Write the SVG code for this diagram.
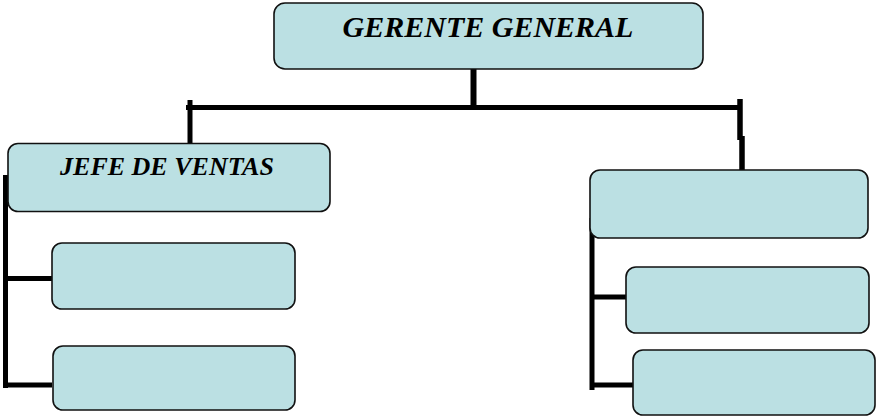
<svg xmlns="http://www.w3.org/2000/svg" width="877" height="416" viewBox="0 0 877 416">
<style>
.box{fill:#bbe0e3;stroke:#111;stroke-width:1.6}
.lbl{font-family:"Liberation Serif","Times New Roman",serif;font-weight:bold;font-style:italic;fill:#000}
.ln{fill:none;stroke:#000;stroke-linecap:butt}
</style>
<rect width="877" height="416" fill="#fff"/>
<g id="connectors">
<line class="ln" x1="473.5" y1="63" x2="473.5" y2="107" stroke-width="6"/>
<line class="ln" x1="186" y1="107.5" x2="742" y2="107.5" stroke-width="5"/>
<line class="ln" x1="190" y1="100" x2="190" y2="143" stroke-width="5"/>
<line class="ln" x1="740" y1="99" x2="740" y2="140" stroke-width="5.5"/>
<line class="ln" x1="742" y1="136" x2="742" y2="170" stroke-width="5.5"/>
<line class="ln" x1="5.5" y1="175" x2="5.5" y2="388" stroke-width="5"/>
<line class="ln" x1="5" y1="278.5" x2="52" y2="278.5" stroke-width="5"/>
<line class="ln" x1="5" y1="385" x2="52" y2="385" stroke-width="5"/>
<line class="ln" x1="592" y1="218" x2="592" y2="390" stroke-width="5"/>
<line class="ln" x1="592" y1="297" x2="630" y2="297" stroke-width="5"/>
<line class="ln" x1="592" y1="385" x2="633" y2="385" stroke-width="5"/>
</g>
<g id="gerente">
<rect class="box" x="274" y="3" width="429" height="66" rx="11"/>
<text class="lbl" x="488" y="37" font-size="30" text-anchor="middle">GERENTE GENERAL</text>
</g>
<g id="jefe">
<rect class="box" x="8" y="143.5" width="322" height="68" rx="10"/>
<text class="lbl" x="167" y="175" font-size="26" text-anchor="middle">JEFE DE VENTAS</text>
</g>
<g id="left1">
<rect class="box" x="52" y="243" width="243" height="66" rx="10"/>
</g>
<g id="left2">
<rect class="box" x="53" y="346" width="242" height="64" rx="10"/>
</g>
<g id="right0">
<rect class="box" x="590" y="170" width="278" height="68" rx="10"/>
</g>
<g id="right1">
<rect class="box" x="626" y="267" width="243" height="66" rx="10"/>
</g>
<g id="right2">
<rect class="box" x="633" y="350" width="242" height="65" rx="10"/>
</g>
</svg>
